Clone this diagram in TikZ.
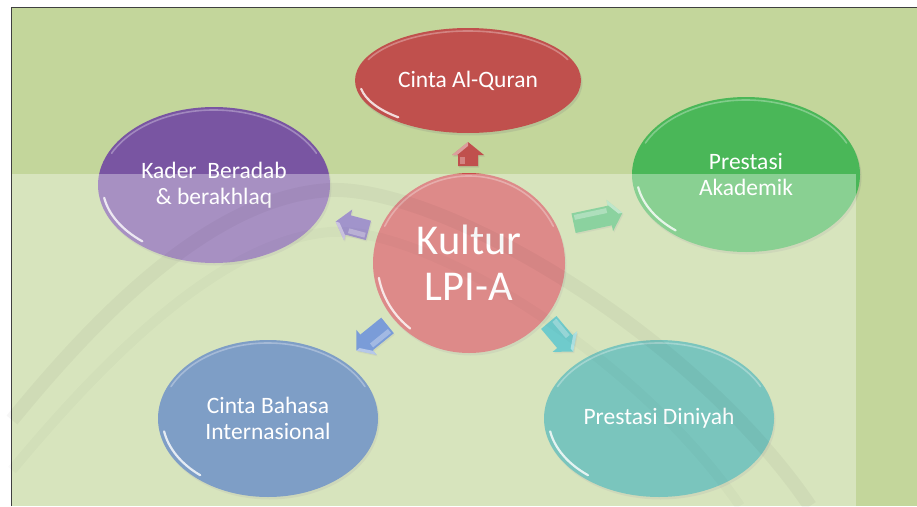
\documentclass[tikz,border=0pt]{standalone}
\usepackage{fontspec}
\setmainfont{Carlito}
\usetikzlibrary{shapes.geometric,calc,shadows}
\definecolor{bg}{RGB}{195,214,155}
\definecolor{cred}{RGB}{192,80,77}
\definecolor{ckul}{RGB}{203,76,74}
\definecolor{cpur}{RGB}{121,85,162}
\definecolor{cgrn}{RGB}{74,183,88}
\definecolor{cblu}{RGB}{58,106,168}
\definecolor{cteal}{RGB}{52,166,154}
\definecolor{apur}{RGB}{112,92,176}
\definecolor{agrn}{RGB}{78,186,109}
\definecolor{ablu}{RGB}{52,104,196}
\definecolor{ateal}{RGB}{34,176,178}
\newcommand\glossy[3]{%
  \draw[white, line width=2.2pt, opacity=0.8, line cap=round]
    ($(#1.center)+(170:#2-4.5 and #3-4.5)$) arc[start angle=170, end angle=130, x radius=#2-4.5, y radius=#3-4.5];
  \draw[white, line width=1.6pt, opacity=0.3, line cap=round]
    ($(#1.center)+(-25:#2-3 and #3-3)$) arc[start angle=-25, end angle=-155, x radius=#2-3, y radius=#3-3];
}
\newcommand\barrow[5]{%
  \begin{scope}[shift={(#1,#2)}, rotate=#3]
    \fill[#5, drop shadow={opacity=0.2,shadow xshift=1pt,shadow yshift=-1.5pt}]
      (-#4/2,-10) -- (#4/2-13,-10) -- (#4/2-13,-16) -- (#4/2,0) -- (#4/2-13,16)
      -- (#4/2-13,10) -- (-#4/2,10) -- cycle;
    \fill[white, opacity=0.3] (-#4/2+2,-8) -- (#4/2-15,-8) -- (#4/2-15,-3) -- (-#4/2+2,-3) -- cycle;
    \fill[white, opacity=0.45] (#4/2-13,-16) -- (#4/2,0) -- (#4/2-4,0) -- (#4/2-13,-11) -- cycle;
  \end{scope}}
\begin{document}
\begin{tikzpicture}[x=1pt,y=-1pt,
  bubble/.style={ellipse, inner sep=0pt, text=white, align=center,
    font=\fontsize{23.5}{25.5}\selectfont,
    drop shadow={opacity=0.2,shadow xshift=1.5pt,shadow yshift=-2.5pt}}]
\useasboundingbox (0,0) rectangle (917,506);
\fill[white] (0,0) rectangle (917,506);
\fill[bg] (12,8) rectangle (917,506);
\draw[line width=1.5pt, black!75] (11.5,506) -- (11.5,7.5) -- (917,7.5);

% nodes
\node[bubble, fill=cred, minimum width=226pt, minimum height=105pt] (quran) at (468,80.5) {Cinta Al-Quran};
\node[bubble, fill=cpur, minimum width=232pt, minimum height=156pt] (kader) at (214,185) {Kader\ \ Beradab\\ \& berakhlaq};
\node[bubble, fill=cgrn, minimum width=228pt, minimum height=155pt] (akad) at (746,174.5) {Prestasi\\ Akademik};
\node[bubble, fill=cblu, minimum width=220pt, minimum height=157pt] (bahasa) at (268,418.5) {Cinta Bahasa\\ Internasional};
\node[bubble, fill=cteal, minimum width=230pt, minimum height=157pt] (diniyah) at (659,418.5) {Prestasi Diniyah};
\node[bubble, fill=ckul, minimum width=192pt, minimum height=180pt,
  font=\fontsize{42.5}{46}\selectfont] (kultur) at (469,263) {Kultur\\ LPI-A};

\glossy{quran}{113}{52.5}
\glossy{kader}{116}{78}
\glossy{akad}{114}{77.5}
\glossy{bahasa}{110}{78.5}
\glossy{diniyah}{115}{78.5}
\glossy{kultur}{96}{90}

% block arrows
\barrow{468}{154}{90}{24}{cred}
\barrow{352}{226}{165}{34}{apur}
\barrow{598}{218}{12}{50}{agrn}
\barrow{372}{338}{219}{40}{ablu}
\barrow{561}{337}{310}{38}{ateal}

% light overlay
\fill[white, opacity=0.35] (12,174) rectangle (856,506);

% faint watermark band
\draw[black, opacity=0.035, line width=14pt]
  (12,420) .. controls (110,300) and (220,196) .. (330,190)
  .. controls (440,186) and (690,330) .. (810,506);
\draw[black, opacity=0.02, line width=10pt]
  (12,470) .. controls (120,340) and (230,240) .. (330,232)
  .. controls (430,226) and (640,360) .. (740,506);
\end{tikzpicture}
\end{document}
